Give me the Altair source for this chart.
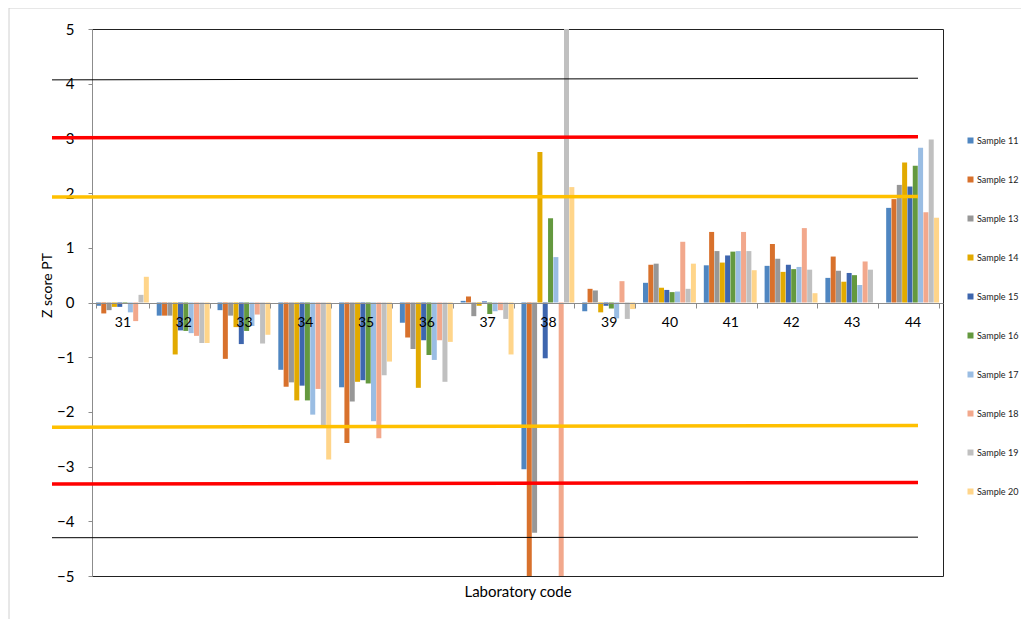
import altair as alt
import pandas as pd

labs = ["31", "32", "33", "34", "35", "36", "37", "38", "39", "40", "41", "42", "43", "44"]
samples = ["Sample 11", "Sample 12", "Sample 13", "Sample 14", "Sample 15",
           "Sample 16", "Sample 17", "Sample 18", "Sample 19", "Sample 20"]

s11 = [-0.06, -0.24, -0.14, -1.23, -1.55, -0.37, 0.03, -3.05, -0.16, 0.36, 0.68, 0.67, 0.45, 1.73]
s12 = [-0.20, -0.24, -1.03, -1.54, -2.57, -0.64, 0.11, -5.00, 0.25, 0.69, 1.29, 1.07, 0.84, 1.89]
s13 = [-0.14, -0.24, -0.24, -1.46, -1.81, -0.85, -0.25, -4.21, 0.22, 0.71, 0.94, 0.80, 0.58, 2.15]
s14 = [-0.08, -0.95, -0.45, -1.79, -1.45, -1.56, -0.06, 2.75, -0.18, 0.27, 0.73, 0.56, 0.38, 2.56]
s15 = [-0.08, -0.51, -0.76, -1.52, -1.42, -0.69, 0.02, -1.02, -0.06, 0.23, 0.86, 0.69, 0.54, 2.12]
s16 = [-0.02, -0.52, -0.52, -1.79, -1.48, -0.96, -0.21, 1.54, -0.11, 0.19, 0.93, 0.61, 0.50, 2.50]
s17 = [-0.18, -0.56, -0.43, -2.05, -2.17, -1.05, -0.16, 0.83, -0.29, 0.20, 0.94, 0.65, 0.32, 2.83]
s18 = [-0.34, -0.61, -0.22, -1.58, -2.48, -0.69, -0.14, -5.00, 0.39, 1.11, 1.29, 1.36, 0.75, 1.65]
s19 = [0.14, -0.74, -0.75, -2.24, -1.33, -1.45, -0.30, 5.00, -0.30, 0.25, 0.94, 0.60, 0.60, 2.98]
s20 = [0.47, -0.74, -0.59, -2.87, -1.08, -0.72, -0.95, 2.11, -0.12, 0.71, 0.59, 0.17, 0.00, 1.55]

colors = ["#4F86C1", "#D8712C", "#979797", "#E2AA00", "#3E66AE",
          "#64993F", "#9ABDE3", "#F2A88C", "#C0C0C0", "#FFD58A"]

# threshold lines (left end value, right end value)
line_left = [4.07, 3.01, 1.93, -2.28, -3.32, -4.30]
line_right = [4.10, 3.03, 1.94, -2.25, -3.29, -4.29]
line_color = ["#000000", "#FF0000", "#FFC000", "#FFC000", "#FF0000", "#000000"]
line_width = [1, 3.5, 3.5, 3.5, 3.5, 1]

series = [s11, s12, s13, s14, s15, s16, s17, s18, s19, s20]
rows = []
for name, vals in zip(samples, series):
    for lab, v in zip(labs, vals):
        rows.append({"lab": lab, "sample": name, "value": v})
df = pd.DataFrame(rows)

lines_df = pd.DataFrame({"y1": line_left, "y2": line_right, "c": line_color, "w": line_width})

W, H = 851, 547
FONT = "Lato"
yscale = alt.Scale(domain=[-5, 5], nice=False, zero=False)
yaxis = alt.Axis(title="Z score PT", values=list(range(-5, 6)), grid=False,
                 labelFontSize=15, labelColor="#000000", labelPadding=14,
                 tickSize=4, tickColor="#8c8c8c", domainColor="#8c8c8c",
                 titleFontSize=14, titleFontWeight="normal", titleColor="#000000",
                 titleX=-45, titleY=256, titleBaseline="middle",
                 labelFont=FONT, titleFont=FONT)

bars = alt.Chart(df).mark_bar(clip=True).encode(
    x=alt.X("lab:N", sort=labs,
            scale=alt.Scale(paddingInner=0.13, paddingOuter=0.065),
            axis=alt.Axis(title="Laboratory code", offset=-273, tickBand="extent",
                          labelAngle=0, labelFontSize=14, labelColor="#000000",
                          labelPadding=7, tickSize=5, tickColor="#8c8c8c",
                          domainColor="#8c8c8c", titleFontSize=15, titleFontWeight="normal",
                          titleColor="#000000", titleY=288, titleBaseline="middle",
                          zindex=1, labelFont=FONT, titleFont=FONT)),
    xOffset=alt.XOffset("sample:N", sort=samples, scale=alt.Scale(paddingInner=0.06)),
    y=alt.Y("value:Q", scale=yscale, axis=yaxis, title="Z score PT"),
    color=alt.Color("sample:N", sort=samples,
                    scale=alt.Scale(domain=samples, range=colors),
                    legend=alt.Legend(title=None, orient="none", legendX=874, legendY=107,
                                      symbolType="square", symbolSize=36,
                                      symbolStrokeWidth=0, labelFontSize=9,
                                      labelFont=FONT, labelColor="#222222",
                                      rowPadding=29, labelOffset=2)),
)

rules = alt.Chart(lines_df).mark_rule().encode(
    x=alt.value(-40), x2=alt.value(826),
    y=alt.Y("y1:Q", scale=yscale, axis=yaxis, title="Z score PT"),
    y2="y2:Q",
    color=alt.Color("c:N", scale=None),
    strokeWidth=alt.StrokeWidth("w:Q", scale=None),
)

border = alt.Chart(pd.DataFrame({"k": [0]})).mark_rect(
    fill=None, stroke="#d0d0d0", strokeWidth=1, clip=False
).encode(
    x=alt.value(-83), x2=alt.value(1000),
    y=alt.value(-21), y2=alt.value(700),
)

chart = alt.layer(border, bars, rules).properties(
    width=W, height=H,
    autosize=alt.AutoSizeParams(type="none"),
    padding={"left": 84, "top": 21, "right": 78, "bottom": 43},
).configure_view(
    stroke="#222222", strokeWidth=1
)

chart.save("out.html", embed_options={"renderer": "svg", "actions": False})
